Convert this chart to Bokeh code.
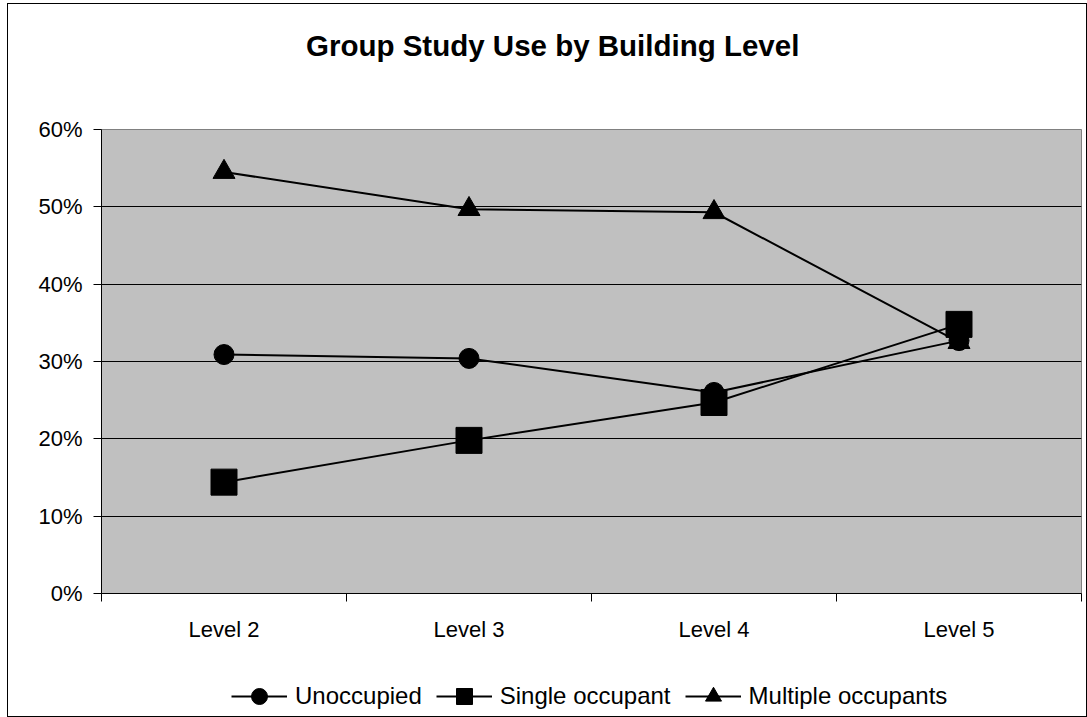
from bokeh.plotting import figure
from bokeh.layouts import column
from bokeh.models import (Range1d, LinearAxis, FixedTicker, NumeralTickFormatter,
                          Legend, LegendItem, Grid, Div)
from bokeh.embed import file_html
from bokeh.resources import INLINE

# Share of group study rooms by occupancy, per building level
levels = ["Level 2", "Level 3", "Level 4", "Level 5"]
unoccupied = [0.309, 0.304, 0.260, 0.327]
single_occupant = [0.144, 0.198, 0.247, 0.348]
multiple_occupants = [0.545, 0.497, 0.493, 0.325]
series_names = ["Unoccupied", "Single occupant", "Multiple occupants"]
y_ticks = [0, 0.1, 0.2, 0.3, 0.4, 0.5, 0.6]
chart_title = "Group Study Use by Building Level"

FONT = "Liberation Sans"
W = 1078

# title band
head = Div(text=(f'<div style="margin:0; padding:27px 0 0 298px; font-family:\'{FONT}\'; '
                 'font-weight:bold; font-size:29.5px; line-height:29.5px; '
                 f'white-space:nowrap; color:black;">{chart_title}</div>'),
           width=W, height=60, margin=(0, 0, 0, 0))

# each level occupies one unit slot; points sit in the slot centres
n = len(levels)
slot_centres = [i + 0.5 for i in range(n)]
slot_edges = list(range(n + 1))

p = figure(width=W, height=596,
           x_range=Range1d(0, n), y_range=Range1d(0, 0.6),
           output_backend="svg", toolbar_location=None,
           x_axis_location=None, y_axis_location=None,
           min_border_left=93, min_border_right=5,
           min_border_top=65, min_border_bottom=67)

p.background_fill_color = "#C0C0C0"
p.border_fill_color = "white"
p.outline_line_color = "#808080"
p.outline_line_width = 1

# drop the default grids, keep only horizontal lines at the 10% steps
p.xgrid.visible = False
p.ygrid.visible = False
p.add_layout(Grid(dimension=1, ticker=FixedTicker(ticks=y_ticks[1:-1]),
                  grid_line_color="black", grid_line_width=1))

# y axis with percent labels
yaxis = LinearAxis(ticker=FixedTicker(ticks=y_ticks),
                   formatter=NumeralTickFormatter(format="0%"))
yaxis.major_tick_out = 8
yaxis.major_tick_in = 0
yaxis.minor_tick_out = 0
yaxis.minor_tick_in = 0
yaxis.axis_line_color = "black"
yaxis.major_tick_line_color = "black"
yaxis.major_label_standoff = 11
yaxis.major_label_text_font = FONT
yaxis.major_label_text_font_size = "22px"
yaxis.major_label_text_color = "black"
p.add_layout(yaxis, "left")

# bottom axis: tick marks on the slot boundaries
bxaxis = LinearAxis(ticker=FixedTicker(ticks=slot_edges))
bxaxis.major_tick_out = 8
bxaxis.major_tick_in = 0
bxaxis.minor_tick_out = 0
bxaxis.minor_tick_in = 0
bxaxis.axis_line_color = "black"
bxaxis.major_tick_line_color = "black"
bxaxis.major_label_overrides = {e: "" for e in slot_edges}
bxaxis.major_label_text_font_size = "1px"
bxaxis.major_label_standoff = 0
p.add_layout(bxaxis, "below")

# level names centred under each slot
cxaxis = LinearAxis(ticker=FixedTicker(ticks=slot_centres))
cxaxis.major_label_overrides = dict(zip(slot_centres, levels))
cxaxis.axis_line_color = None
cxaxis.major_tick_line_color = None
cxaxis.minor_tick_line_color = None
cxaxis.major_tick_out = 0
cxaxis.major_tick_in = 0
cxaxis.major_label_standoff = 15
cxaxis.major_label_text_font = FONT
cxaxis.major_label_text_font_size = "22px"
cxaxis.major_label_text_color = "black"
p.add_layout(cxaxis, "below")

specs = [(unoccupied, "circle", 20), (single_occupant, "square", 26),
         (multiple_occupants, "triangle", 22)]
for vals, marker, size in specs:
    p.line(x=slot_centres, y=vals, line_color="black", line_width=2)
    p.scatter(x=slot_centres, y=vals, marker=marker, size=size,
              fill_color="black", line_color="black")

# legend band under the chart (its glyphs carry the series data, drawn off-view)
foot = figure(width=W, height=56, x_range=Range1d(-2, -1), y_range=Range1d(-2, -1),
              output_backend="svg", toolbar_location=None,
              x_axis_location=None, y_axis_location=None,
              min_border_left=0, min_border_right=0, min_border_top=0, min_border_bottom=0)
foot.xgrid.visible = False
foot.ygrid.visible = False
foot.outline_line_color = None
foot.background_fill_color = "white"
foot.border_fill_color = "white"

items = []
for name, (vals, marker, size) in zip(series_names, specs):
    kl = foot.line(x=slot_centres, y=vals, line_color="black", line_width=2)
    ks = foot.scatter(x=slot_centres, y=vals, marker=marker, size=size,
                      fill_color="black", line_color="black")
    items.append(LegendItem(label=name, renderers=[kl, ks]))

legend = Legend(items=items, orientation="horizontal", location=(130, 0),
                glyph_width=56, glyph_height=40, label_standoff=8, spacing=14,
                padding=0, margin=0, border_line_color=None,
                background_fill_alpha=0,
                label_text_font=FONT, label_text_font_size="24px",
                label_text_color="black")
foot.add_layout(legend)

page = column(head, p, foot, spacing=0)
page.margin = (3, 0, 0, 7)
page.styles = {"border": "1px solid black"}

open("out.html", "w").write(file_html(page, INLINE))
